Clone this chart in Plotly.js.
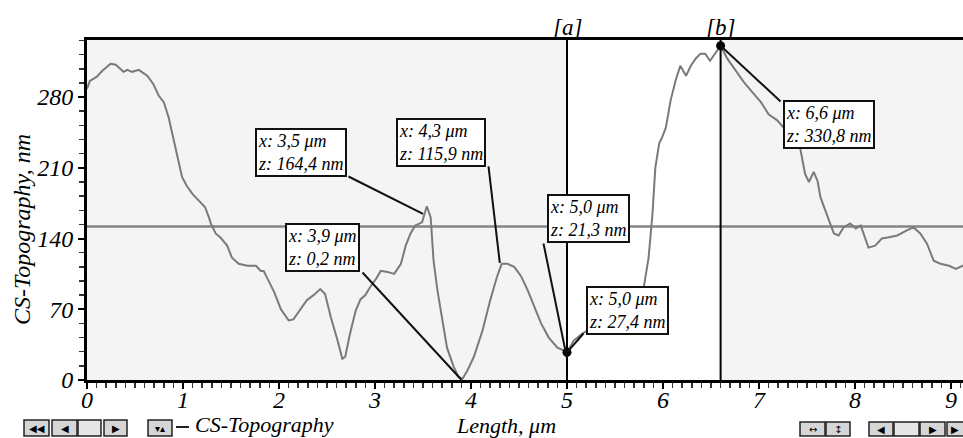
<!DOCTYPE html>
<html>
<head>
<meta charset="utf-8">
<script src="https://cdn.plot.ly/plotly-3.0.1.min.js"></script>
<style>
html,body{margin:0;padding:0;background:#fff;overflow:hidden;}
#chart{width:963px;height:438px;}
</style>
</head>
<body>
<div id="chart"></div>
<script>
// ---- data ----
const lengthUm = [0.00,0.03,0.10,0.16,0.245,0.30,0.38,0.42,0.47,0.54,0.63,0.69,0.75,0.80,0.85,0.90,0.95,0.99,1.04,1.10,1.18,1.23,1.27,1.29,1.34,1.39,1.46,1.51,1.58,1.67,1.76,1.81,1.84,1.88,1.95,2.02,2.10,2.15,2.22,2.29,2.36,2.43,2.48,2.54,2.61,2.66,2.69,2.74,2.80,2.85,2.90,2.95,3.01,3.06,3.13,3.20,3.27,3.32,3.37,3.42,3.49,3.54,3.58,3.61,3.65,3.70,3.75,3.82,3.87,3.91,3.96,4.03,4.12,4.20,4.27,4.32,4.38,4.45,4.52,4.59,4.66,4.73,4.81,4.90,4.97,5.00,5.07,5.16,5.30,5.50,5.70,5.80,5.85,5.89,5.92,5.96,5.99,6.03,6.08,6.13,6.18,6.24,6.29,6.34,6.39,6.44,6.49,6.55,6.60,6.67,6.76,6.84,6.93,7.02,7.10,7.19,7.30,7.43,7.48,7.52,7.57,7.61,7.64,7.69,7.73,7.78,7.83,7.88,7.95,8.01,8.06,8.14,8.21,8.28,8.34,8.44,8.54,8.61,8.68,8.75,8.82,8.89,8.98,9.05,9.12,9.20];
const topographyNm = [288,296,300,306,313,312,305,307,305,307,301,293,281,275,260,240,217,201,192,184,176,171,161,155,145,141,133,121,115,113,113,108,108,100,87,70,59,60,70,79,84,90,85,62,39,21,23,46,69,80,84,92,100,108,107,105,115,133,145,153,156,172,161,118,89,59,32,13,3,1,9,23,49,79,102,115,115,112,103,89,72,56,42,32,29,27.4,39,46,54,66,82,92,121,164,210,234,240,250,277,296,311,301,311,318,323,323,316,324,330.8,318,306,295,285,275,263,257,245,229,204,196,206,197,181,168,158,145,143,151,155,150,153,131,133,140,141,143,148,151,145,135,118,115,113,110,113,112];

const cursorX = [5.0, 6.6];
const cursorLabels = ['[a]', '[b]'];
const cursorZ = [27.4, 330.8];
const levelZ = 152;
const calloutX = [3.5, 4.3, 5.0, 5.0, 3.9, 6.6];
const calloutZ = [164.4, 115.9, 21.3, 27.4, 0.2, 330.8];
const xTitle = 'Length, μm';
const yTitle = 'CS-Topography, nm';
const seriesName = 'CS-Topography';

// ---- layout settings (pixels) ----
const boxOff = [[-122,-61],[-59,-120],[21,-140],[60,-42],[-139,-132],[108,79]];
const lineOff = [[-74.5,-37.4],[-11.3,-96.4],[-23.5,-115],[16.5,-18.8],[-98.9,-107.3],[60,55.7]];

const W = 963, H = 438, L = 87, R = 0, T = 40, B = 58;
const pw = W - L - R, ph = H - T - B;
const px2x = p => (p - L) / pw;
const py2y = p => (H - B - p) / ph;

const serif = 'Liberation Serif, Times New Roman, serif';
const fmt = v => v.toFixed(1).replace('.', ',');

const shapes = [];
const annotations = [];

shapes.push({type:'rect', xref:'x', yref:'paper', x0:cursorX[0], x1:cursorX[1], y0:0, y1:1,
  fillcolor:'#ffffff', line:{width:0}, layer:'below'});
shapes.push({type:'line', xref:'paper', yref:'y', x0:0, x1:1, y0:levelZ, y1:levelZ,
  line:{color:'#858585', width:2.5}, layer:'below'});
cursorX.forEach((cx, i) => {
  shapes.push({type:'line', xref:'x', yref:'paper', x0:cx, x1:cx, y0:0, y1:1,
    line:{color:'#000', width:2}, layer:'above'});
  annotations.push({x:cx, xref:'x', y:1, yref:'paper', xanchor:'center', yanchor:'bottom', showarrow:false,
    text:cursorLabels[i], font:{family:serif, size:23, style:'italic', color:'#000'}, yshift:-2});
});
calloutX.forEach((cx, i) => {
  const cz = calloutZ[i];
  shapes.push({type:'line', xref:'x', yref:'y', xsizemode:'pixel', ysizemode:'pixel',
    xanchor:cx, yanchor:cz, x0:0, x1:lineOff[i][0], y0:0, y1:-lineOff[i][1],
    line:{color:'#111', width:2}, layer:'above'});
});
calloutX.forEach((cx, i) => {
  const cz = calloutZ[i];
  annotations.push({x:cx, y:cz, xref:'x', yref:'y', showarrow:false,
    xshift:boxOff[i][0], yshift:-boxOff[i][1], xanchor:'center', yanchor:'middle',
    text:'x: ' + fmt(cx) + ' μm<br>z: ' + fmt(cz) + ' nm', align:'left',
    font:{family:serif, size:18, style:'italic', color:'#000'},
    bgcolor:'#ffffff', bordercolor:'#111', borderwidth:2, borderpad:1});
});

annotations.push({xref:'paper', yref:'paper', x:px2x(22), y:py2y(230), xanchor:'center', yanchor:'middle',
  text:yTitle, textangle:-90, showarrow:false, font:{family:serif, size:24, style:'italic', color:'#000'}});
annotations.push({xref:'paper', yref:'paper', x:px2x(506), y:py2y(425), xanchor:'center', yanchor:'middle',
  text:xTitle, showarrow:false, font:{family:serif, size:22, style:'italic', color:'#000'}});

function button(x0, y0, x1, y1, glyph, fill, gx) {
  shapes.push({type:'rect', xref:'paper', yref:'paper', x0:px2x(x0), x1:px2x(x1), y0:py2y(y1), y1:py2y(y0),
    fillcolor: fill || '#d6d6d6', line:{color:'#222', width:1.5}, layer:'above'});
  if (glyph) annotations.push({xref:'paper', yref:'paper', x:px2x(gx || (x0+x1)/2), y:py2y((y0+y1)/2),
    xanchor:'center', yanchor:'middle', text:glyph, showarrow:false,
    font:{family:'DejaVu Sans', size:10, color:'#000'}});
}
button(24,420,49,436,'◀◀');
button(52,420,77,436,'◀');
button(78,420,101,436,'', '#e6e6e6');
button(104,420,127,436,'▶');
button(148,420,172,436,'▾▴');
shapes.push({type:'line', xref:'paper', yref:'paper', x0:px2x(176), x1:px2x(189), y0:py2y(427), y1:py2y(427),
  line:{color:'#222', width:2}});
annotations.push({xref:'paper', yref:'paper', x:px2x(193), y:py2y(424), xanchor:'left', yanchor:'middle',
  text:seriesName, showarrow:false, font:{family:serif, size:22, style:'italic', color:'#000'}});
button(800,422,825,436,'↔');
button(826,422,850,436,'↕');
button(869,422,893,436,'◀');
button(894,422,919,436,'', '#e6e6e6');
button(920,422,945,436,'▶');
button(947,422,975,436,'▶', null, 955);

const traces = [
  {x:lengthUm, y:topographyNm, type:'scatter', mode:'lines', name:seriesName,
   line:{color:'#7a7a7a', width:2}, hoverinfo:'skip'},
  {x:cursorX, y:cursorZ, type:'scatter', mode:'markers', marker:{color:'#000', size:9}, hoverinfo:'skip'}
];

const tickFont = {family:serif, size:24, style:'italic', color:'#000'};
const layout = {
  width:W, height:H, margin:{l:L, r:R, t:T, b:B, pad:0},
  paper_bgcolor:'#ffffff', plot_bgcolor:'#f4f4f4', showlegend:false,
  xaxis:{range:[0, 9.125], showline:true, linecolor:'#000', linewidth:3, mirror:true,
    ticks:'outside', ticklen:6, tickwidth:2, tickcolor:'#000', dtick:1, tick0:0,
    ticklabelstandoff:-10,
    minor:{dtick:0.1, tick0:0, ticks:'outside', ticklen:5, tickwidth:1.5, tickcolor:'#333', showgrid:false},
    showgrid:false, zeroline:false, tickfont:tickFont, fixedrange:true},
  yaxis:{range:[0, 336.5], showline:true, linecolor:'#000', linewidth:3, mirror:false,
    ticks:'outside', ticklen:6, tickwidth:2, tickcolor:'#000', dtick:70, tick0:0,
    minor:{dtick:14, tick0:0, ticks:'outside', ticklen:5, tickwidth:1.5, tickcolor:'#333', showgrid:false},
    showgrid:false, zeroline:false, tickfont:tickFont, fixedrange:true},
  shapes:shapes, annotations:annotations
};
Plotly.newPlot('chart', traces, layout, {displayModeBar:false, staticPlot:true});
</script>
</body>
</html>
